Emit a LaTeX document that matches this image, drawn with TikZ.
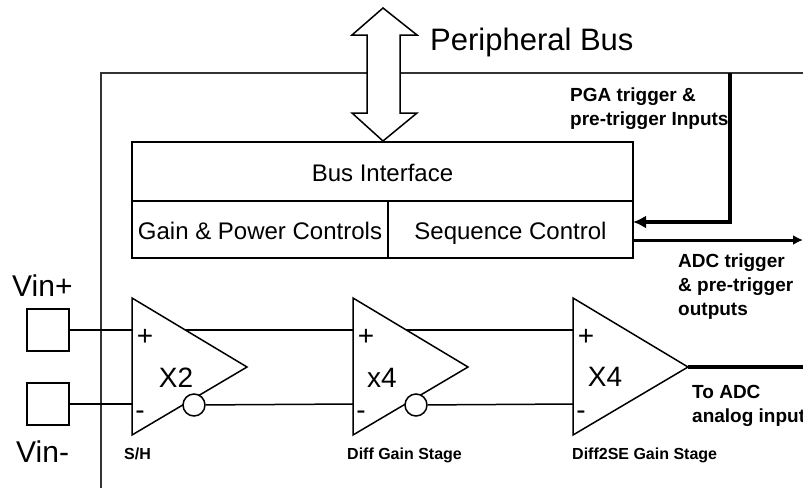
\documentclass[tikz,border=0pt]{standalone}
\usepackage{fontspec}
\setmainfont{Liberation Sans}
\usetikzlibrary{arrows.meta}
\newcommand\myamp[2]{%
  \coordinate (#1tl) at (#2,298);
  \coordinate (#1bl) at (#2,435);
  \coordinate (#1o) at (#2+115,367);
  \coordinate (#1p) at (#2,330);
  \coordinate (#1m) at (#2,404);
  \coordinate (#1e) at (#2+53.3,330);
  \draw[ln, line join=miter] (#1tl) -- (#1o) -- (#1bl) -- cycle;
  \node[sign] (#1plus) at (#2+13,337) {+};
  \node[sign] (#1minus) at (#2+8,415) {-};
}
\begin{document}
\begin{tikzpicture}[x=1pt,y=-1pt,
  ln/.style={line width=1.5pt, draw=black},
  thk/.style={line width=3.5pt, draw=black},
  frame/.style={line width=2pt, draw=black!80},
  cell/.style={draw=black, line width=1.5pt, inner sep=0pt, text height=20pt, text depth=0pt, font=\fontsize{24}{28}\selectfont},
  sign/.style={inner sep=0pt, font=\fontsize{28}{32}\selectfont},
  gain/.style={inner sep=0pt, font=\fontsize{28}{32}\selectfont},
  small/.style={inner sep=0pt, anchor=base west, font=\bfseries\fontsize{16}{19}\selectfont},
  note/.style={inner sep=0pt, anchor=north west, align=left, font=\bfseries\fontsize{19}{24}\selectfont},
  vin/.style={inner sep=0pt, anchor=base west, font=\fontsize{30}{34}\selectfont},
  pad/.style={draw=black, line width=1.5pt, minimum width=42pt, minimum height=42pt, inner sep=0pt},
  bub/.style={circle, draw=black, fill=white, line width=1.5pt, minimum size=22pt, inner sep=0pt}
]
\useasboundingbox (0,0) rectangle (803,488);
% frame
\draw[frame] (803,73) -- (101,73) -- (101,488);
% peripheral bus arrow
\node[inner sep=0pt, anchor=base west, font=\fontsize{31}{36}\selectfont] (pb) at (430,50) {Peripheral Bus};
% bus interface blocks
\node[cell, minimum width=501pt, minimum height=59pt] (bi) at (382.5,171.5) {Bus Interface};
\node[cell, minimum width=256pt, minimum height=57pt] (gp) at (260,229.5) {Gain \& Power Controls};
\node[cell, minimum width=245pt, minimum height=57pt] (sc) at (510.5,229.5) {Sequence Control};
\draw[line width=1.5pt, fill=white, line join=miter]
  (383,8) -- (417,35) -- (400,35) -- (400,113) -- (417,113) -- (383,141)
  -- (352,113) -- (367,113) -- (367,35) -- (352,35) -- cycle;
% trigger lines
\coordinate (pgatop) at (730,73);
\coordinate (scin) at (633,222);
\coordinate (scout) at (633,240);
\coordinate (adcend) at (803,240);
\draw[thk, line join=miter, -{Latex[length=13pt,width=13pt]}] (pgatop) |- (scin);
\draw[line width=3pt, -{Latex[length=10pt,width=10pt]}] (scout) -- (adcend);
\node[note] (pga) at (570,88) {PGA trigger \&\\pre-trigger Inputs};
\node[note] (adct) at (678,254) {ADC trigger\\\& pre-trigger\\outputs};
\node[note] (toadc) at (692,385) {To ADC\\analog input};
% inputs
\node[pad] (vp) at (48,330) {};
\node[pad] (vm) at (48,404) {};
\node[vin] (vpl) at (12,296) {Vin+};
\node[vin] (vml) at (16,462) {Vin-};
% amplifiers
\myamp{a1}{132}
\myamp{a2}{353}
\myamp{a3}{573}
\node[gain] (g1) at (176,378) {X2};
\node[gain] (g2) at (382,378) {x4};
\node[gain] (g3) at (605,377) {X4};
\node[bub] (b1) at (194,405) {};
\node[bub] (b2) at (416,405) {};
\draw[ln] (vp) -- (a1p);
\draw[ln] (vm) -- (a1m);
\draw[ln] (a1e) -- (a2p);
\draw[ln] (b1) -- (a2m);
\draw[ln] (a2e) -- (a3p);
\draw[ln] (b2) -- (a3m);
\coordinate (aout) at (803,367);
\draw[line width=4pt] (a3o) -- (aout);
\node[small] (l1) at (124,459) {S/H};
\node[small] (l2) at (347,459) {Diff Gain Stage};
\node[small] (l3) at (572,459) {Diff2SE Gain Stage};
\end{tikzpicture}
\end{document}
